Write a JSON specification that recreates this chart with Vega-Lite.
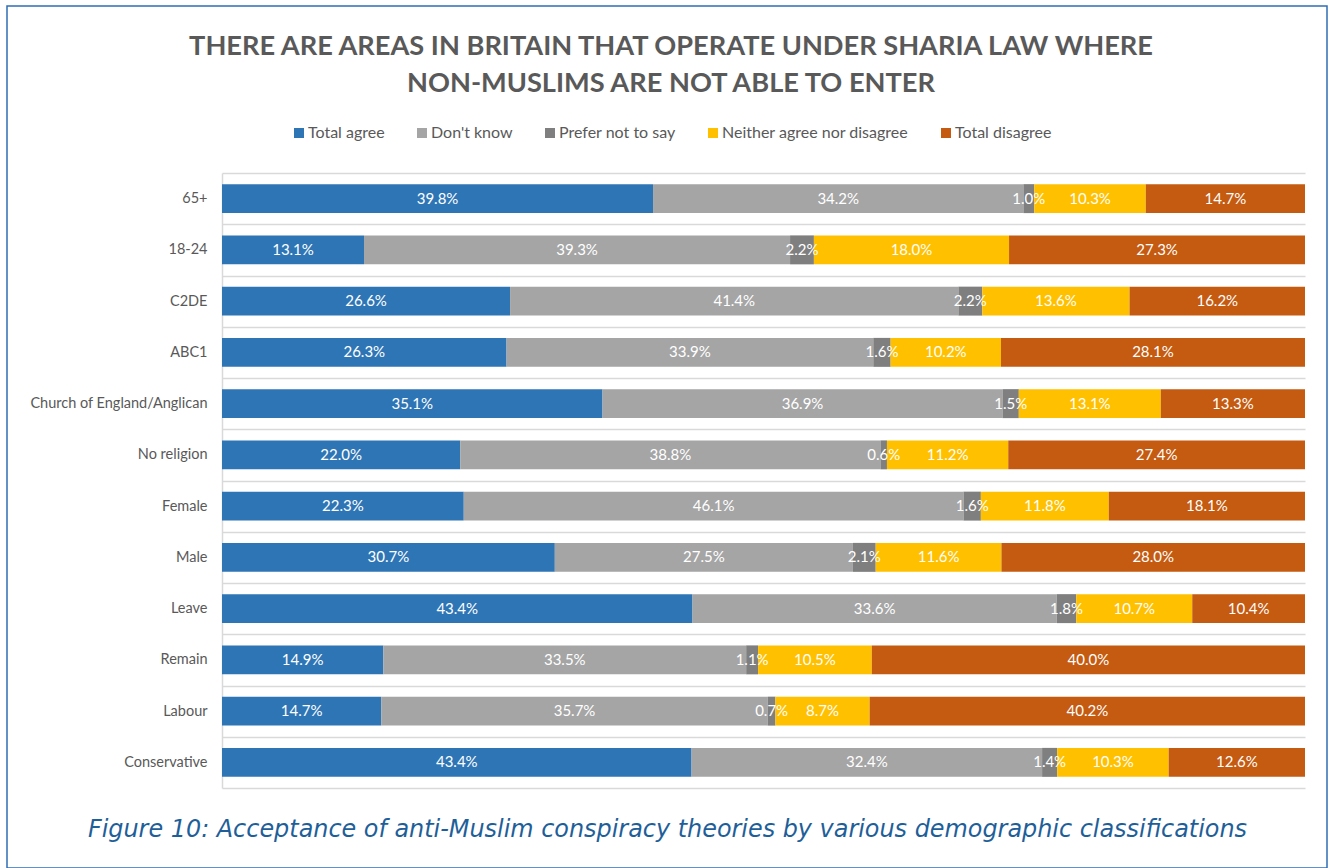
{
  "$schema": "https://vega.github.io/schema/vega-lite/v6.json",
  "width": 1320,
  "height": 862,
  "autosize": {"type": "none"},
  "padding": {"left": 7, "top": 6, "right": 8, "bottom": 0},
  "background": "white",
  "config": {
    "view": {"stroke": "#2E6DB4", "strokeWidth": 1.5},
    "font": "Lato"
  },
  "title": {
    "text": ["THERE ARE AREAS IN BRITAIN THAT OPERATE UNDER SHARIA LAW WHERE", "NON-MUSLIMS ARE NOT ABLE TO ENTER"],
    "font": "Lato",
    "fontWeight": "bold",
    "fontSize": 27.2,
    "color": "#595959",
    "anchor": "middle",
    "frame": "group",
    "orient": "top",
    "baseline": "top",
    "offset": -100,
    "lineHeight": 37,
    "dx": 4
  },
  "data": {
    "values": [
      {"group": "65+", "response": "Total agree", "value": 0.398},
      {"group": "65+", "response": "Don't know", "value": 0.342},
      {"group": "65+", "response": "Prefer not to say", "value": 0.010},
      {"group": "65+", "response": "Neither agree nor disagree", "value": 0.103},
      {"group": "65+", "response": "Total disagree", "value": 0.147},
      {"group": "18-24", "response": "Total agree", "value": 0.131},
      {"group": "18-24", "response": "Don't know", "value": 0.393},
      {"group": "18-24", "response": "Prefer not to say", "value": 0.022},
      {"group": "18-24", "response": "Neither agree nor disagree", "value": 0.180},
      {"group": "18-24", "response": "Total disagree", "value": 0.273},
      {"group": "C2DE", "response": "Total agree", "value": 0.266},
      {"group": "C2DE", "response": "Don't know", "value": 0.414},
      {"group": "C2DE", "response": "Prefer not to say", "value": 0.022},
      {"group": "C2DE", "response": "Neither agree nor disagree", "value": 0.136},
      {"group": "C2DE", "response": "Total disagree", "value": 0.162},
      {"group": "ABC1", "response": "Total agree", "value": 0.263},
      {"group": "ABC1", "response": "Don't know", "value": 0.339},
      {"group": "ABC1", "response": "Prefer not to say", "value": 0.016},
      {"group": "ABC1", "response": "Neither agree nor disagree", "value": 0.102},
      {"group": "ABC1", "response": "Total disagree", "value": 0.281},
      {"group": "Church of England/Anglican", "response": "Total agree", "value": 0.351},
      {"group": "Church of England/Anglican", "response": "Don't know", "value": 0.369},
      {"group": "Church of England/Anglican", "response": "Prefer not to say", "value": 0.015},
      {"group": "Church of England/Anglican", "response": "Neither agree nor disagree", "value": 0.131},
      {"group": "Church of England/Anglican", "response": "Total disagree", "value": 0.133},
      {"group": "No religion", "response": "Total agree", "value": 0.220},
      {"group": "No religion", "response": "Don't know", "value": 0.388},
      {"group": "No religion", "response": "Prefer not to say", "value": 0.006},
      {"group": "No religion", "response": "Neither agree nor disagree", "value": 0.112},
      {"group": "No religion", "response": "Total disagree", "value": 0.274},
      {"group": "Female", "response": "Total agree", "value": 0.223},
      {"group": "Female", "response": "Don't know", "value": 0.461},
      {"group": "Female", "response": "Prefer not to say", "value": 0.016},
      {"group": "Female", "response": "Neither agree nor disagree", "value": 0.118},
      {"group": "Female", "response": "Total disagree", "value": 0.181},
      {"group": "Male", "response": "Total agree", "value": 0.307},
      {"group": "Male", "response": "Don't know", "value": 0.275},
      {"group": "Male", "response": "Prefer not to say", "value": 0.021},
      {"group": "Male", "response": "Neither agree nor disagree", "value": 0.116},
      {"group": "Male", "response": "Total disagree", "value": 0.280},
      {"group": "Leave", "response": "Total agree", "value": 0.434},
      {"group": "Leave", "response": "Don't know", "value": 0.336},
      {"group": "Leave", "response": "Prefer not to say", "value": 0.018},
      {"group": "Leave", "response": "Neither agree nor disagree", "value": 0.107},
      {"group": "Leave", "response": "Total disagree", "value": 0.104},
      {"group": "Remain", "response": "Total agree", "value": 0.149},
      {"group": "Remain", "response": "Don't know", "value": 0.335},
      {"group": "Remain", "response": "Prefer not to say", "value": 0.011},
      {"group": "Remain", "response": "Neither agree nor disagree", "value": 0.105},
      {"group": "Remain", "response": "Total disagree", "value": 0.400},
      {"group": "Labour", "response": "Total agree", "value": 0.147},
      {"group": "Labour", "response": "Don't know", "value": 0.357},
      {"group": "Labour", "response": "Prefer not to say", "value": 0.007},
      {"group": "Labour", "response": "Neither agree nor disagree", "value": 0.087},
      {"group": "Labour", "response": "Total disagree", "value": 0.402},
      {"group": "Conservative", "response": "Total agree", "value": 0.434},
      {"group": "Conservative", "response": "Don't know", "value": 0.324},
      {"group": "Conservative", "response": "Prefer not to say", "value": 0.014},
      {"group": "Conservative", "response": "Neither agree nor disagree", "value": 0.103},
      {"group": "Conservative", "response": "Total disagree", "value": 0.126}
    ]
  },
  "transform": [
    {"calculate": "indexof(['Total agree','Don\\'t know','Prefer not to say','Neither agree nor disagree','Total disagree'], datum.response)", "as": "stackOrder"}
  ],
  "encoding": {
    "y": {
      "field": "group",
      "type": "nominal",
      "scale": {
        "domain": ["65+", "18-24", "C2DE", "ABC1", "Church of England/Anglican", "No religion", "Female", "Male", "Leave", "Remain", "Labour", "Conservative"],
        "range": [167, 782],
        "paddingInner": 0,
        "paddingOuter": 0
      },
      "axis": {
        "orient": "left",
        "offset": -215,
        "title": null,
        "domainColor": "#D9D9D9",
        "domainWidth": 1.5,
        "grid": true,
        "gridColor": "#D9D9D9",
        "gridWidth": 1.5,
        "tickBand": "extent",
        "ticks": false,
        "labelFont": "Lato",
        "labelFontSize": 14.5,
        "labelColor": "#595959",
        "labelPadding": 15,
        "labelLimit": 300
      }
    },
    "x": {
      "field": "value",
      "type": "quantitative",
      "stack": "normalize",
      "scale": {"range": [215, 1298], "nice": false},
      "axis": {
        "orient": "bottom",
        "domain": false,
        "ticks": false,
        "labels": false,
        "grid": false,
        "title": "Figure 10: Acceptance of anti-Muslim conspiracy theories by various demographic classifications",
        "titleFont": "DejaVu Sans",
        "titleFontStyle": "italic",
        "titleFontWeight": "normal",
        "titleFontSize": 23.9,
        "titleColor": "#1F5F99",
        "titleX": 660,
        "titleY": -39,
        "titleBaseline": "middle",
        "titleAnchor": "middle",
        "titleAlign": "center",
        "titleLimit": 1300
      }
    },
    "order": {"field": "stackOrder", "type": "quantitative"}
  },
  "layer": [
    {
      "mark": {"type": "bar", "height": {"band": 0.565}},
      "encoding": {
        "color": {
          "field": "response",
          "type": "nominal",
          "scale": {
            "domain": ["Total agree", "Don't know", "Prefer not to say", "Neither agree nor disagree", "Total disagree"],
            "range": ["#2E75B6", "#A5A5A5", "#7F7F7F", "#FFC000", "#C55A11"]
          },
          "legend": {
            "orient": "none",
            "legendX": 284,
            "legendY": 119,
            "direction": "horizontal",
            "title": null,
            "symbolType": "square",
            "symbolSize": 100,
            "symbolStrokeWidth": 0,
            "labelFont": "Lato",
            "labelFontSize": 16,
            "labelColor": "#595959",
            "labelOffset": 1,
            "labelLimit": 400,
            "columnPadding": 29,
            "padding": 0
          }
        }
      }
    },
    {
      "mark": {"type": "text", "color": "white", "font": "Lato", "fontSize": 15, "baseline": "middle", "align": "center"},
      "encoding": {
        "x": {"field": "value", "type": "quantitative", "stack": "normalize", "bandPosition": 0.5},
        "detail": {"field": "response", "type": "nominal"},
        "text": {"field": "value", "type": "quantitative", "format": ".1%"}
      }
    }
  ]
}
